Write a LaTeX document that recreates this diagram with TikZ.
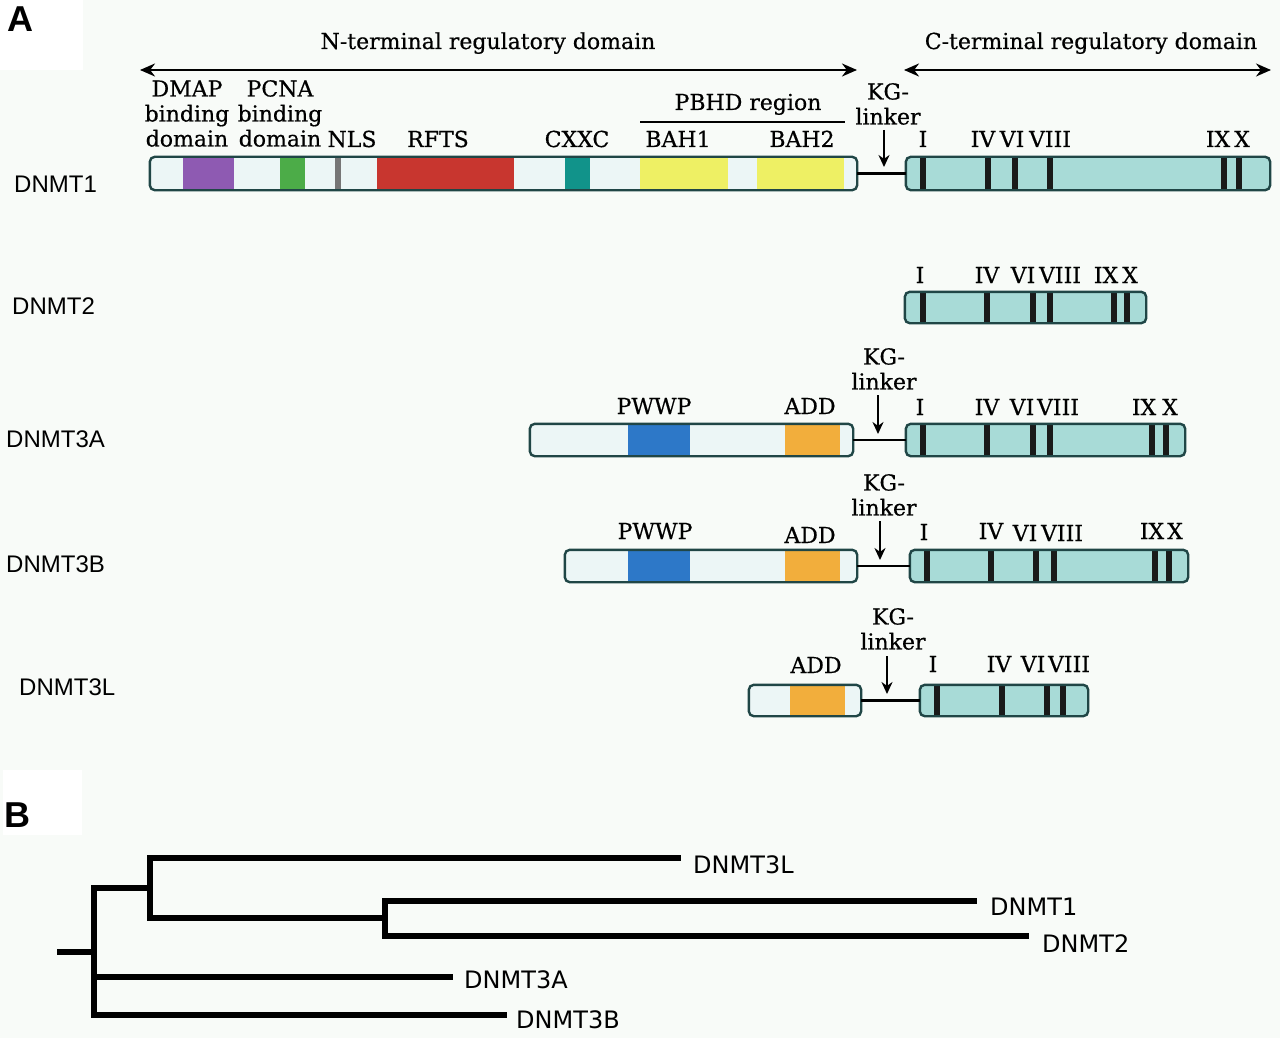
\documentclass[tikz,border=0pt]{standalone}
\usepackage{fontspec}
\usetikzlibrary{arrows.meta}
\newfontfamily\serifl{DejaVu Serif}[FakeBold=0.5]
\newfontfamily\sansl{Liberation Sans}
\newfontfamily\treef{DejaVu Sans}
\definecolor{bgc}{RGB}{248,251,248}
\definecolor{barline}{RGB}{32,70,70}
\definecolor{nfill}{RGB}{236,246,246}
\definecolor{cfill}{RGB}{168,219,215}
\definecolor{purp}{RGB}{142,90,178}
\definecolor{grn}{RGB}{76,172,72}
\definecolor{gry}{RGB}{118,118,118}
\definecolor{redc}{RGB}{200,54,47}
\definecolor{tealc}{RGB}{17,147,138}
\definecolor{yel}{RGB}{238,240,100}
\definecolor{blu}{RGB}{45,120,200}
\definecolor{orng}{RGB}{242,174,60}
\definecolor{motifc}{RGB}{26,26,26}
\newcommand\segfill[4]{\fill[#1] (#2,0 |- #4.north) rectangle (#3,0 |- #4.south);}
\newcommand\motif[2]{\fill[motifc] (#1-3,0 |- #2.north) rectangle (#1+3,0 |- #2.south);}
\newcommand\outline[1]{\draw[barline,line width=2.4pt,rounded corners=5pt] (#1.south west) rectangle (#1.north east);}
\begin{document}
\begin{tikzpicture}[x=1pt,y=-1pt,
  nbar/.style={fill=nfill,inner sep=0pt,minimum height=#1},
  cbar/.style={fill=cfill,inner sep=0pt,minimum height=#1},
  lab/.style={font=\serifl\fontsize{22}{25}\selectfont,inner sep=0pt,align=center},
  rn/.style={font=\serifl\fontsize{22}{25}\selectfont,inner sep=0pt,anchor=base},
  rowlab/.style={font=\sansl\fontsize{24}{28}\selectfont,inner sep=0pt,anchor=base west},
  treelab/.style={font=\treef\fontsize{24}{28}\selectfont,inner sep=0pt,anchor=base west},
  domarrow/.style={line width=2.2pt,{Stealth[length=15pt,width=13pt]}-{Stealth[length=15pt,width=13pt]}},
  kgarrow/.style={line width=2pt,-{Stealth[length=12pt,width=11pt]}},
  linkerline/.style={line width=2.8pt,black},
  tree/.style={line width=5.5pt,black},
  panel/.style={font=\sansl\bfseries\fontsize{36}{40}\selectfont,inner sep=0pt,anchor=base west}]
\useasboundingbox (0,0) rectangle (1280,1038);
\fill[bgc] (0,0) rectangle (1280,1038);
\fill[white] (0,0) rectangle (83,70);
\fill[white] (3,770) rectangle (82,835);
\node[panel] (pA) at (7,32) {A};
\node[panel] (pB) at (4,827) {B};

% ---------- domain arrows
\coordinate (nl) at (140,70); \coordinate (nr) at (857,70);
\coordinate (cl) at (904,70); \coordinate (cr) at (1271,70);
\draw[domarrow] (nl) -- (nr);
\draw[domarrow] (cl) -- (cr);
\node[lab,anchor=base] (nterm) at (488,49) {N-terminal regulatory domain};
\node[lab,anchor=base] (cterm) at (1091,49) {C-terminal regulatory domain};

% ---------- DNMT1
\node[rowlab] (r1) at (14,193) {DNMT1};
\node[nbar=33pt,minimum width=707pt] (n1) at (503.5,173.5) {};
\segfill{purp}{183}{234}{n1}
\segfill{grn}{280}{305}{n1}
\segfill{gry}{335}{341}{n1}
\segfill{redc}{377}{514}{n1}
\segfill{tealc}{565}{590}{n1}
\segfill{yel}{640}{728}{n1}
\segfill{yel}{757}{844}{n1}
\outline{n1}
\node[cbar=33pt,minimum width=364pt] (c1) at (1088,173.5) {};
\foreach \m in {923,988,1015,1050,1224,1239} {\motif{\m}{c1}}
\outline{c1}
\draw[linkerline] (n1.east) -- (c1.west);
\node[lab,anchor=south] (dmap) at (187,147) {DMAP\\binding\\domain};
\node[lab,anchor=south] (pcna) at (280,147) {PCNA\\binding\\domain};
\node[lab,anchor=base] (nls) at (352,147) {NLS};
\node[lab,anchor=base] (rfts) at (438,147) {RFTS};
\node[lab,anchor=base] (cxxc) at (577,147) {CXXC};
\node[lab,anchor=base] (bah1) at (678,147) {BAH1};
\node[lab,anchor=base] (bah2) at (802,147) {BAH2};
\node[lab,anchor=base] (pbhd) at (748,110) {PBHD region};
\coordinate (pbl) at (640,122); \coordinate (pbr) at (845,122);
\draw[line width=2pt] (pbl) -- (pbr);
\node[lab,anchor=south] (kg1) at (888,125) {KG-\\linker};
\coordinate (kg1a) at (884,130); \coordinate (kg1b) at (884,167);
\draw[kgarrow] (kg1a) -- (kg1b);
\node[rn] (m1a) at (923,147) {I};
\node[rn] (m1b) at (983,147) {IV};
\node[rn] (m1c) at (1012,147) {VI};
\node[rn] (m1d) at (1050,147) {VIII};
\node[rn] (m1e) at (1218,147) {IX};
\node[rn] (m1f) at (1242,147) {X};

% ---------- DNMT2
\node[rowlab] (r2) at (12,314) {DNMT2};
\node[cbar=31pt,minimum width=241pt] (c2) at (1025.5,307.5) {};
\foreach \m in {923,987,1033,1050,1114,1127} {\motif{\m}{c2}}
\outline{c2}
\node[rn] (m2a) at (920,283) {I};
\node[rn] (m2b) at (987,283) {IV};
\node[rn] (m2c) at (1023,283) {VI};
\node[rn] (m2d) at (1060,283) {VIII};
\node[rn] (m2e) at (1106,283) {IX};
\node[rn] (m2f) at (1130,283) {X};

% ---------- DNMT3A
\node[rowlab] (r3a) at (6,447) {DNMT3A};
\node[nbar=32pt,minimum width=323pt] (n3a) at (691.5,440) {};
\segfill{blu}{628}{690}{n3a}
\segfill{orng}{785}{840}{n3a}
\outline{n3a}
\node[cbar=32pt,minimum width=279pt] (c3a) at (1045.5,440) {};
\foreach \m in {923,987,1033,1050,1152,1166} {\motif{\m}{c3a}}
\outline{c3a}
\draw[linkerline] (n3a.east) -- (c3a.west);
\node[lab,anchor=base] (pw3a) at (654,414) {PWWP};
\node[lab,anchor=base] (ad3a) at (810,414) {ADD};
\node[lab,anchor=south] (kg3a) at (884,390) {KG-\\linker};
\coordinate (kg3aa) at (878,395); \coordinate (kg3ab) at (878,434);
\draw[kgarrow] (kg3aa) -- (kg3ab);
\node[rn] (m3aa) at (920,415) {I};
\node[rn] (m3ab) at (987,415) {IV};
\node[rn] (m3ac) at (1022,415) {VI};
\node[rn] (m3ad) at (1058,415) {VIII};
\node[rn] (m3ae) at (1144,415) {IX};
\node[rn] (m3af) at (1170,415) {X};

% ---------- DNMT3B
\node[rowlab] (r3b) at (6,572) {DNMT3B};
\node[nbar=32pt,minimum width=292pt] (n3b) at (711,566) {};
\segfill{blu}{628}{690}{n3b}
\segfill{orng}{785}{840}{n3b}
\outline{n3b}
\node[cbar=32pt,minimum width=278pt] (c3b) at (1049,566) {};
\foreach \m in {927,991,1036,1054,1155,1169} {\motif{\m}{c3b}}
\outline{c3b}
\draw[linkerline] (n3b.east) -- (c3b.west);
\node[lab,anchor=base] (pw3b) at (655,539) {PWWP};
\node[lab,anchor=base] (ad3b) at (810,543) {ADD};
\node[lab,anchor=south] (kg3b) at (884,516) {KG-\\linker};
\coordinate (kg3ba) at (880,521); \coordinate (kg3bb) at (880,560);
\draw[kgarrow] (kg3ba) -- (kg3bb);
\node[rn] (m3ba) at (924,540) {I};
\node[rn] (m3bb) at (991,539) {IV};
\node[rn] (m3bc) at (1025,541) {VI};
\node[rn] (m3bd) at (1062,541) {VIII};
\node[rn] (m3be) at (1152,539) {IX};
\node[rn] (m3bf) at (1175,539) {X};

% ---------- DNMT3L
\node[rowlab] (r3l) at (19,695) {DNMT3L};
\node[nbar=31pt,minimum width=112pt] (n3l) at (805,700.5) {};
\segfill{orng}{790}{845}{n3l}
\outline{n3l}
\node[cbar=31pt,minimum width=168pt] (c3l) at (1004,700.5) {};
\foreach \m in {937,1002,1047,1063} {\motif{\m}{c3l}}
\outline{c3l}
\draw[linkerline] (n3l.east) -- (c3l.west);
\node[lab,anchor=base] (ad3l) at (816,673) {ADD};
\node[lab,anchor=south] (kg3l) at (893,650) {KG-\\linker};
\coordinate (kg3la) at (887,656); \coordinate (kg3lb) at (887,694);
\draw[kgarrow] (kg3la) -- (kg3lb);
\node[rn] (m3la) at (933,672) {I};
\node[rn] (m3lb) at (999,672) {IV};
\node[rn] (m3lc) at (1033,672) {VI};
\node[rn] (m3ld) at (1069,672) {VIII};

% ---------- Panel B tree
\coordinate (root) at (57,952);
\coordinate (j1) at (94,952);
\coordinate (j1t) at (94,888);
\coordinate (j1b) at (94,1015);
\coordinate (j1m) at (94,977);
\coordinate (j2) at (150,888);
\coordinate (j2t) at (150,858);
\coordinate (j2b) at (150,918);
\coordinate (j3) at (385,918);
\coordinate (j3t) at (385,901);
\coordinate (j3b) at (385,936);
\coordinate (e3l) at (681,858);
\coordinate (e1) at (977,901);
\coordinate (e2) at (1029,936);
\coordinate (e3a) at (453,977);
\coordinate (e3b) at (507,1015);
\draw[tree] (root) -- (j1);
\draw[tree,line cap=rect] (j1t) -- (j1b);
\draw[tree] (j1t) -- (j2);
\draw[tree,line cap=rect] (j2t) -- (j2b);
\draw[tree] (j2t) -- (e3l);
\draw[tree] (j2b) -- (j3);
\draw[tree,line cap=rect] (j3t) -- (j3b);
\draw[tree] (j3t) -- (e1);
\draw[tree] (j3b) -- (e2);
\draw[tree] (j1m) -- (e3a);
\draw[tree] (j1b) -- (e3b);
\node[treelab] (t3l) at (693,873) {DNMT3L};
\node[treelab] (t1) at (990,915) {DNMT1};
\node[treelab] (t2) at (1042,952) {DNMT2};
\node[treelab] (t3a) at (464,988) {DNMT3A};
\node[treelab] (t3b) at (516,1028) {DNMT3B};
\end{tikzpicture}
\end{document}
